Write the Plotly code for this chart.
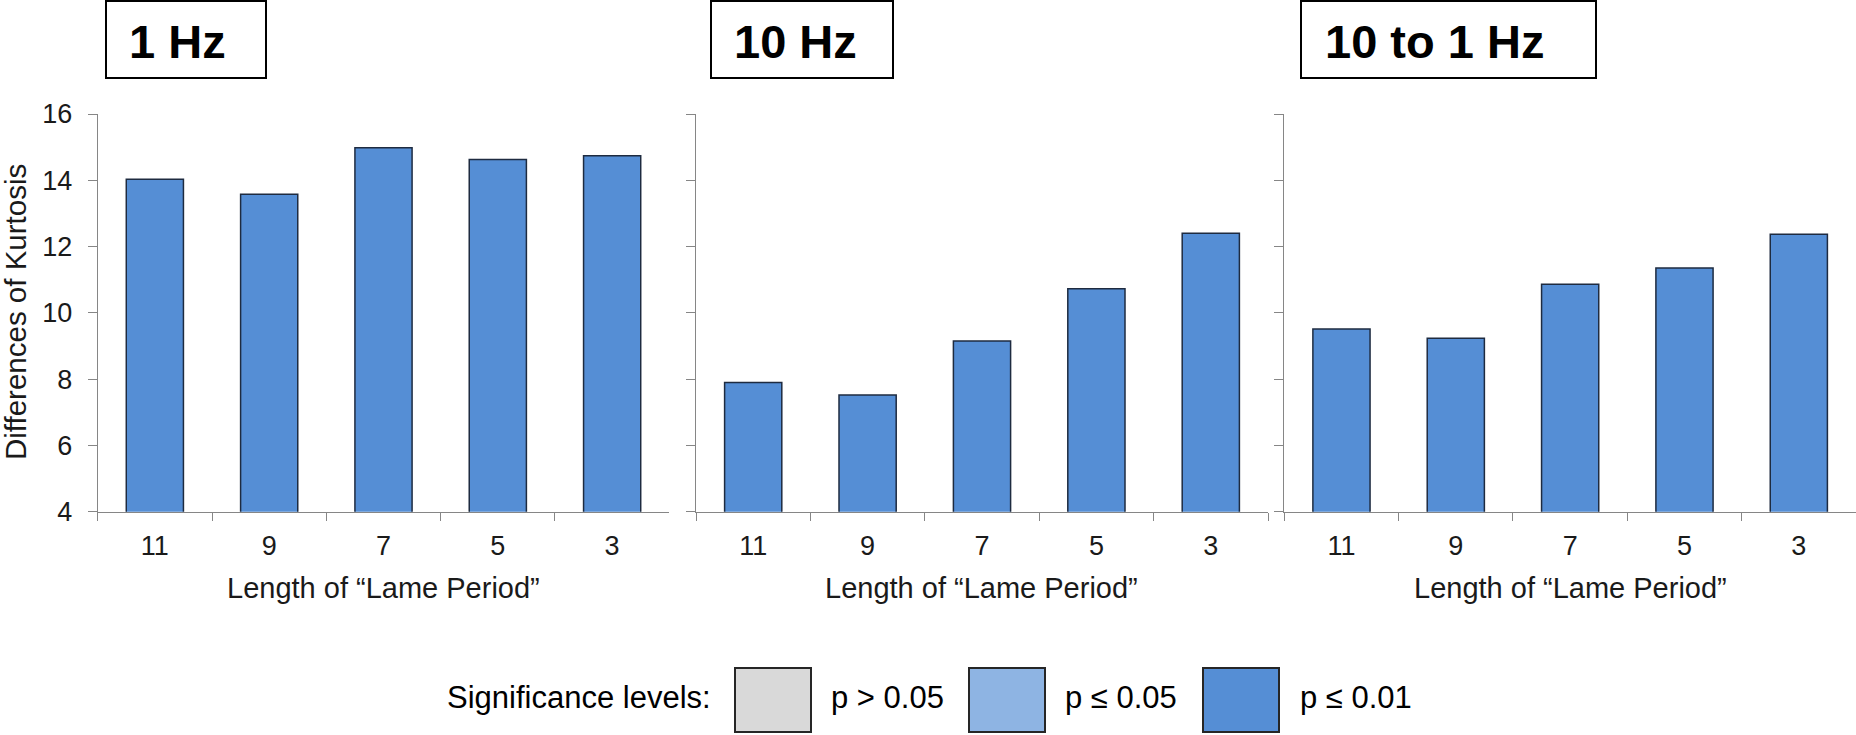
import plotly.graph_objects as go

# ---------------- data ----------------
categories = ["11", "9", "7", "5", "3"]
panel_titles = ["1 Hz", "10 Hz", "10 to 1 Hz"]
kurtosis_1hz = [14.03, 13.58, 14.98, 14.63, 14.74]
kurtosis_10hz = [7.90, 7.52, 9.15, 10.73, 12.40]
kurtosis_10to1hz = [9.51, 9.23, 10.86, 11.35, 12.37]
y_ticks = [4, 6, 8, 10, 12, 14, 16]
x_title = "Length of “Lame Period”"
y_title = "Differences of Kurtosis"
legend_title = "Significance levels:"
legend_labels = ["p > 0.05", "p ≤ 0.05", "p ≤ 0.01"]
legend_colors = ["#D9D9D9", "#8EB4E3", "#558ED5"]

series = [kurtosis_1hz, kurtosis_10hz, kurtosis_10to1hz]

# ---------------- layout helpers ----------------
W, H = 1856, 735
FONT = "Liberation Sans, Arial, sans-serif"
AXIS_GRAY = "#868686"
BAR_COLOR = "#558ED5"


def px(x):
    return x / W


def py(y):
    return 1 - y / H


panel_x = [(97.7, 669.3), (696.0, 1268.0), (1284.3, 1856.0)]
y_top, y_bot = 114.0, 511.7
title_boxes = [(106, 266, 127), (711, 893, 732), (1301, 1596, 1323)]

fig = go.Figure()

for i, vals in enumerate(series):
    sfx = "" if i == 0 else str(i + 1)
    fig.add_trace(go.Bar(
        x=categories, y=vals, width=0.5,
        xaxis="x" + sfx, yaxis="y" + sfx,
        marker=dict(color=BAR_COLOR, line=dict(color="#1E2B40", width=1.5)),
        showlegend=False, hoverinfo="x+y",
    ))
    x0, x1 = panel_x[i]
    fig.layout["xaxis" + sfx] = dict(
        domain=[px(x0), px(x1)], anchor="y" + sfx,
        type="category", range=[-0.5, 4.5],
        tickson="boundaries", ticks="outside", ticklen=8, tickwidth=1,
        tickcolor=AXIS_GRAY, showline=True, linecolor=AXIS_GRAY, linewidth=1,
        showgrid=False, zeroline=False, automargin=False,
        tickfont=dict(family=FONT, size=27, color="#1a1a1a"),
        ticklabelstandoff=10,
    )
    fig.layout["yaxis" + sfx] = dict(
        domain=[py(y_bot), py(y_top)], anchor="x" + sfx,
        range=[4, 16], tickmode="array", tickvals=y_ticks,
        ticks="outside", ticklen=9, tickwidth=1, tickcolor=AXIS_GRAY,
        showline=True, linecolor=AXIS_GRAY, linewidth=1,
        showgrid=False, zeroline=False, automargin=False,
        showticklabels=(i == 0),
        tickfont=dict(family=FONT, size=27, color="#1a1a1a"),
        ticklabelstandoff=10,
    )

shapes = []
annotations = []

# panel title boxes
for (bx0, bx1, tx), t in zip(title_boxes, panel_titles):
    shapes.append(dict(type="rect", xref="paper", yref="paper",
                       x0=px(bx0), x1=px(bx1), y0=py(78), y1=py(1),
                       line=dict(color="black", width=2), fillcolor="white"))
    annotations.append(dict(text="<b>" + t + "</b>", xref="paper", yref="paper",
                            x=px(tx), y=py(41), xanchor="left", yanchor="middle",
                            showarrow=False,
                            font=dict(family=FONT, size=47, color="black")))

# x axis titles
for x0, x1 in panel_x:
    annotations.append(dict(text=x_title, xref="paper", yref="paper",
                            x=px((x0 + x1) / 2), y=py(588), xanchor="center",
                            yanchor="middle", showarrow=False,
                            font=dict(family=FONT, size=29, color="#1a1a1a")))

# y axis title
annotations.append(dict(text=y_title, xref="paper", yref="paper",
                        x=px(15), y=py(312), xanchor="center", yanchor="middle",
                        textangle=-90, showarrow=False,
                        font=dict(family=FONT, size=29.5, color="#1a1a1a")))

# significance legend
annotations.append(dict(text=legend_title, xref="paper", yref="paper",
                        x=px(445), y=py(697), xanchor="left", yanchor="middle",
                        showarrow=False, font=dict(family=FONT, size=31, color="black")))
leg_box_x = [735, 969, 1203]
leg_text_x = [829, 1063, 1298]
for bx, tx, lab, col in zip(leg_box_x, leg_text_x, legend_labels, legend_colors):
    shapes.append(dict(type="rect", xref="paper", yref="paper",
                       x0=px(bx), x1=px(bx + 76), y0=py(732), y1=py(668),
                       line=dict(color="#262626", width=2), fillcolor=col))
    annotations.append(dict(text=lab, xref="paper", yref="paper",
                            x=px(tx), y=py(697), xanchor="left", yanchor="middle",
                            showarrow=False, font=dict(family=FONT, size=31, color="black")))

fig.update_layout(
    width=W, height=H,
    margin=dict(l=0, r=0, t=0, b=0, autoexpand=False),
    paper_bgcolor="white", plot_bgcolor="white",
    shapes=shapes, annotations=annotations,
    bargap=0.5, showlegend=False,
    font=dict(family=FONT),
)

fig.write_html("out.html")
